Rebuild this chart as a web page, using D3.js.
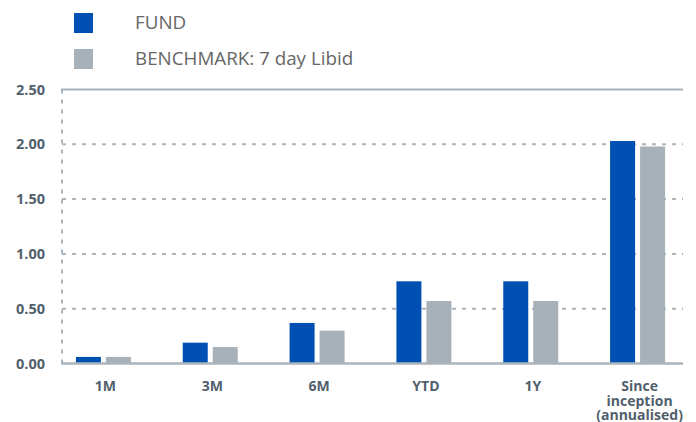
<!DOCTYPE html>
<html><head><meta charset="utf-8">
<script src="https://cdn.jsdelivr.net/npm/d3@7"></script>
<style>body{margin:0;background:#fff;} svg{display:block;}</style>
</head><body>
<svg id="c" width="696" height="422"></svg>
<script>
const categories = ["1M", "3M", "6M", "YTD", "1Y", "Since inception (annualised)"];
const categoryLines = [["1M"], ["3M"], ["6M"], ["YTD"], ["1Y"], ["Since", "inception", "(annualised)"]];
const fundValues = [0.06, 0.19, 0.37, 0.75, 0.75, 2.03];
const benchmarkValues = [0.06, 0.15, 0.30, 0.57, 0.57, 1.98];
const seriesNames = ["FUND", "BENCHMARK: 7 day Libid"];
const seriesColors = ["#0050b4", "#a7b1ba"];
const yTicks = [0, 0.5, 1, 1.5, 2, 2.5];

(function () {
const svg = d3.select("#c");
const pLeft = 62, pRight = 683, pTop = 89.5, pBottom = 363.5;
const y = d3.scaleLinear().domain([0, 2.5]).range([pBottom, pTop]);
const x = d3.scaleBand().domain(categories).range([50, 691]);
const x1 = d3.scaleBand().domain([0, 1]).range([0, 55]).paddingInner(1/6);
const gridColor = "#aab4bd";
const labelColor = "#515f6d";

svg.append("g").selectAll("line").data(yTicks.filter(t => t > 0 && t < 2.5)).join("line")
  .attr("x1", pLeft).attr("x2", pRight).attr("y1", d => y(d)).attr("y2", d => y(d))
  .attr("stroke", gridColor).attr("stroke-width", 2).attr("stroke-dasharray", "4,6");
svg.append("line").attr("x1", pLeft).attr("x2", pLeft).attr("y1", pTop).attr("y2", pBottom)
  .attr("stroke", gridColor).attr("stroke-width", 2).attr("stroke-dasharray", "4,6");
svg.append("line").attr("x1", pLeft - 1).attr("x2", pRight).attr("y1", y(2.5)).attr("y2", y(2.5))
  .attr("stroke", gridColor).attr("stroke-width", 2);

const series = [fundValues, benchmarkValues];
series.forEach((vals, si) => {
  svg.append("g").selectAll("rect").data(vals).join("rect")
    .attr("x", (d, i) => x(categories[i]) + x.bandwidth() / 2 - 27.5 + x1(si))
    .attr("width", x1.bandwidth())
    .attr("y", d => y(d))
    .attr("height", d => y(0) - y(d))
    .attr("fill", seriesColors[si]);
});

svg.append("line").attr("x1", pLeft - 1).attr("x2", pRight).attr("y1", y(0)).attr("y2", y(0))
  .attr("stroke", gridColor).attr("stroke-width", 2.5);

const yAxis = d3.axisLeft(y).tickValues(yTicks).tickFormat(d3.format(".2f")).tickSize(0).tickPadding(0);
const ya = svg.append("g").attr("transform", `translate(45,0)`).call(yAxis);
ya.select(".domain").remove();
ya.selectAll("text").attr("font-family", "'Open Sans',sans-serif")
  .attr("font-size", 14.5).attr("font-weight", "bold").attr("fill", labelColor);

const xl = svg.append("g").selectAll("text").data(categories).join("text")
  .attr("text-anchor", "middle")
  .attr("font-family", "'Open Sans',sans-serif").attr("font-size", 14).attr("font-weight", "bold")
  .attr("fill", labelColor)
  .attr("transform", d => `translate(${x(d) + x.bandwidth() / 2 + 2},391)`);
xl.each(function(d, i) {
  d3.select(this).selectAll("tspan").data(categoryLines[i]).join("tspan")
    .attr("x", 0).attr("dy", (t, j) => j === 0 ? 0 : 14.5).text(t => t);
});

const lg = svg.append("g");
seriesNames.forEach((n, i) => {
  lg.append("rect").attr("x", 74).attr("y", 13 + i * 36).attr("width", 19).attr("height", 20).attr("fill", seriesColors[i]);
  lg.append("text").attr("x", 135).attr("y", 29 + i * 36).text(n)
    .attr("font-family", "'Open Sans',sans-serif").attr("font-size", 18.8).attr("fill", "#666");
});
})();
</script>
</body></html>
